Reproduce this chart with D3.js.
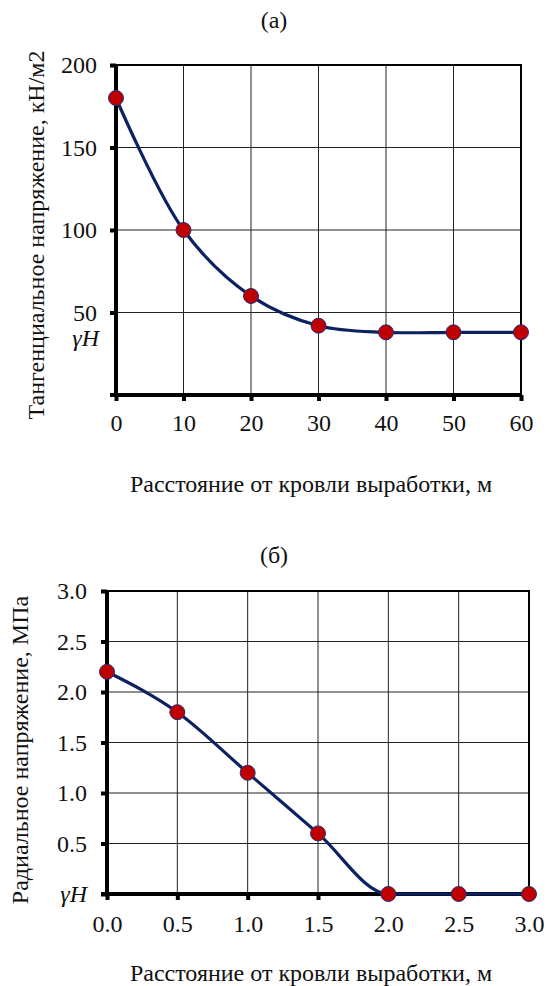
<!DOCTYPE html>
<html>
<head>
<meta charset="utf-8">
<script src="https://cdn.jsdelivr.net/npm/d3@7"></script>
</head>
<body style="margin:0;background:#fff">
<svg id="chart"></svg>
<script>
// panel (a)
var distA   = [0, 10, 20, 30, 40, 50, 60];
var stressA = [180, 100, 60, 42, 38, 38, 38];
var xTicksA = [0, 10, 20, 30, 40, 50, 60];
var yTicksA = [50, 100, 150, 200];
var gammaHA = 38;

// panel (b)
var distB   = [0.0, 0.5, 1.0, 1.5, 2.0, 2.5, 3.0];
var stressB = [2.2, 1.8, 1.2, 0.6, 0, 0, 0];
var xTicksB = [0, 0.5, 1, 1.5, 2, 2.5, 3];
var yTicksB = [0, 0.5, 1, 1.5, 2, 2.5, 3];

var xLabel = "Расстояние от кровли выработки, м";
var FONT = "'Liberation Serif', serif";

var svg = d3.select("#chart").attr("width", 549).attr("height", 986);

function serif(sel) {
  return sel.style("font-family", FONT).style("font-size", "24px").style("fill", "#111");
}

function panel(o) {
  var g = svg.append("g");
  var x = d3.scaleLinear().domain(o.xDom).range([o.left, o.right]);
  var y = d3.scaleLinear().domain(o.yDom).range([o.bottom, o.top]);

  // grid
  g.selectAll("line.vg").data(o.xTicks).enter().append("line")
    .attr("x1", function(d) { return x(d); }).attr("x2", function(d) { return x(d); })
    .attr("y1", o.top).attr("y2", o.bottom)
    .attr("stroke", "#222").attr("stroke-width", 1);
  g.selectAll("line.hg").data(o.yTicks).enter().append("line")
    .attr("x1", o.left).attr("x2", o.right)
    .attr("y1", function(d) { return y(d); }).attr("y2", function(d) { return y(d); })
    .attr("stroke", "#222").attr("stroke-width", 1);

  // top / right border
  g.append("path")
    .attr("d", "M" + o.left + "," + o.top + "H" + o.right + "V" + o.bottom)
    .attr("fill", "none").attr("stroke", "#000").attr("stroke-width", 2);

  // axes
  var ax = g.append("g").attr("transform", "translate(0," + o.bottom + ")")
    .call(d3.axisBottom(x).tickValues(o.xTicks).tickSize(6).tickPadding(o.xPad).tickFormat(o.xFmt));
  var ay = g.append("g").attr("transform", "translate(" + o.left + ",0)")
    .call(d3.axisLeft(y).tickValues(o.yTicks).tickSize(6).tickPadding(o.yPad).tickFormat(o.yFmt));
  [ax, ay].forEach(function(a) {
    a.attr("font-family", null).attr("font-size", null);
    a.select(".domain").attr("stroke", "#000").attr("stroke-width", 4);
    a.selectAll(".tick line").attr("stroke", "#000").attr("stroke-width", 4);
    serif(a.selectAll(".tick text"));
  });
  ax.select(".domain").attr("d", "M" + (o.left - 6) + ",0H" + o.right);
  ay.select(".domain").attr("d", "M0," + o.top + "V" + (o.bottom + 2));
  ay.selectAll(".tick text").filter(function(d) { return o.gammaTick && d === 0; })
    .style("font-style", "italic");

  // curve
  var line = d3.line().x(function(d) { return x(d[0]); }).y(function(d) { return y(d[1]); })
    .curve(o.curve);
  var pts = o.xs.map(function(v, i) { return [v, o.ys[i]]; });
  g.append("path").datum(pts).attr("d", line)
    .attr("fill", "none").attr("stroke", "#0b2161").attr("stroke-width", 3.2);
  g.selectAll("circle").data(pts).enter().append("circle")
    .attr("cx", function(d) { return x(d[0]); }).attr("cy", function(d) { return y(d[1]); })
    .attr("r", 7.5).attr("fill", "#c00000").attr("stroke", "#1f2f7a").attr("stroke-width", 1);

  if (o.gammaVal != null) {
    serif(g.append("text")).attr("x", o.left - 17).attr("y", y(o.gammaVal) + 14)
      .attr("text-anchor", "end").style("font-style", "italic")
      .text("γH");
  }

  // titles
  serif(g.append("text")).attr("x", 274).attr("y", o.titleY).attr("text-anchor", "middle").text(o.title);
  serif(g.append("text")).attr("x", 311).attr("y", o.xLabY).attr("text-anchor", "middle").text(xLabel);
  serif(g.append("text")).attr("transform", "translate(" + o.yLabX + "," + o.yLabY + ") rotate(-90)")
    .attr("text-anchor", "middle").text(o.yLabel);
}

panel({
  xDom: [0, 60], yDom: [0, 200],
  left: 116, right: 521, top: 65, bottom: 395,
  xTicks: xTicksA, yTicks: yTicksA, xPad: 13, yPad: 13,
  xFmt: d3.format("d"), yFmt: d3.format("d"),
  xs: distA, ys: stressA, gammaVal: gammaHA, curve: d3.curveCatmullRom.alpha(0.5),
  title: "(a)", titleY: 28, xLabY: 492,
  yLabel: "Тангенциальное напряжение, кН/м2", yLabX: 44, yLabY: 235
});

panel({
  xDom: [0, 3], yDom: [0, 3],
  left: 107, right: 529, top: 591, bottom: 894,
  xTicks: xTicksB, yTicks: yTicksB, xPad: 15, yPad: 14,
  xFmt: d3.format(".1f"),
  yFmt: function(d) { return d === 0 ? "γH" : d3.format(".1f")(d); },
  gammaTick: true,
  xs: distB, ys: stressB, gammaVal: null, curve: d3.curveMonotoneX,
  title: "(б)", titleY: 563, xLabY: 981,
  yLabel: "Радиальное напряжение, МПа", yLabX: 28, yLabY: 750
});
</script>
</body>
</html>
